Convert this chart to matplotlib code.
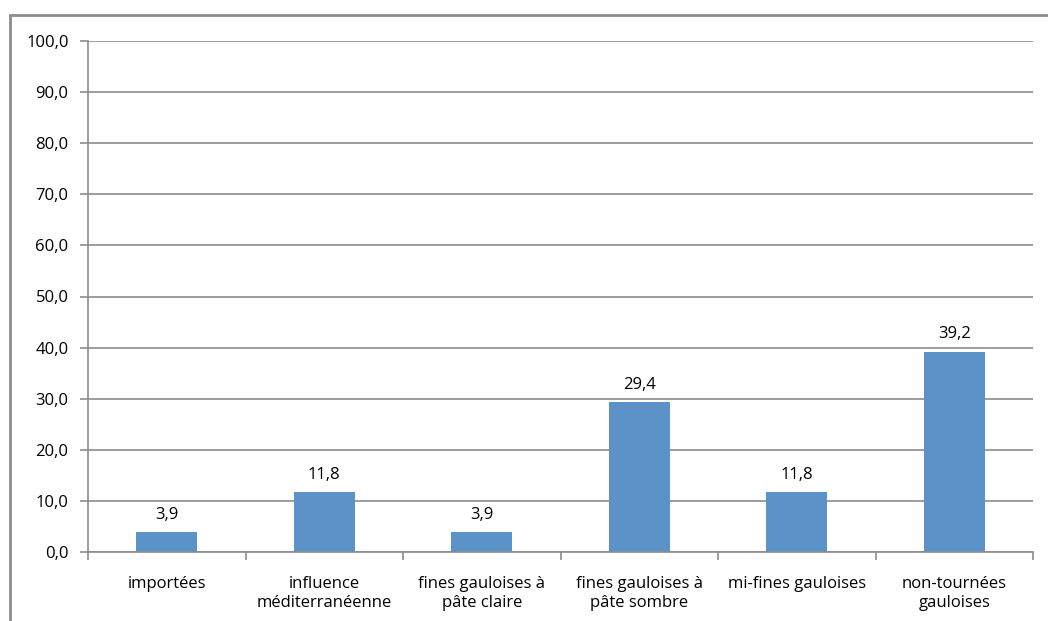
import matplotlib.pyplot as plt
from matplotlib.patches import Rectangle

categories = ["importées", "influence\nméditerranéenne", "fines gauloises à\npâte claire",
              "fines gauloises à\npâte sombre", "mi-fines gauloises", "non-tournées\ngauloises"]
values = [3.9, 11.8, 3.9, 29.4, 11.8, 39.2]
yticks = [0, 10, 20, 30, 40, 50, 60, 70, 80, 90, 100]

plt.rcParams['font.family'] = ['Open Sans', 'DejaVu Sans']
FS = 12

W, H = 1048, 621
fig = plt.figure(figsize=(W / 100, H / 100), dpi=100)
ax = fig.add_axes([88 / W, 1 - 552 / H, (1033 - 88) / W, (552 - 41) / H])

# outer chart frame (cropped on right and bottom)
fig.patches.append(Rectangle((10 / W, -0.1), 1.2, 1 - 15 / H + 0.1, transform=fig.transFigure,
                             fill=False, edgecolor='#8c8c8c', linewidth=2))

x = range(len(categories))
bars = ax.bar(x, values, width=0.39, color='#5b93c9')
for b, v in zip(bars, values):
    ax.text(b.get_x() + b.get_width() / 2, v + 1.8, f"{v:.1f}".replace('.', ','),
            ha='center', va='bottom', fontsize=FS, color='#000000')

ax.set_xlim(-0.5, len(categories) - 0.5)
ax.set_ylim(0, 100)
ax.set_yticks(yticks)
ax.set_yticklabels([f"{t:.1f}".replace('.', ',') for t in yticks], fontsize=FS)
ax.yaxis.grid(True, color='#8c8c8c', linewidth=1.2)
ax.set_axisbelow(True)

ax.set_xticks([i - 0.5 for i in range(len(categories) + 1)], minor=False)
ax.set_xticklabels([])
ax.set_xticks(list(x), minor=True)
ax.set_xticklabels(categories, minor=True, fontsize=FS, linespacing=1.3)
ax.tick_params(axis='x', which='minor', length=0, pad=17)
ax.tick_params(axis='x', which='major', length=6, color='#8c8c8c', width=1.2)
ax.tick_params(axis='y', length=6, color='#8c8c8c', width=1.2, pad=8)

for s in ['top', 'right']:
    ax.spines[s].set_visible(False)
for s in ['left', 'bottom']:
    ax.spines[s].set_color('#8c8c8c')
    ax.spines[s].set_linewidth(1.2)

fig.savefig('out.png', dpi=100)
